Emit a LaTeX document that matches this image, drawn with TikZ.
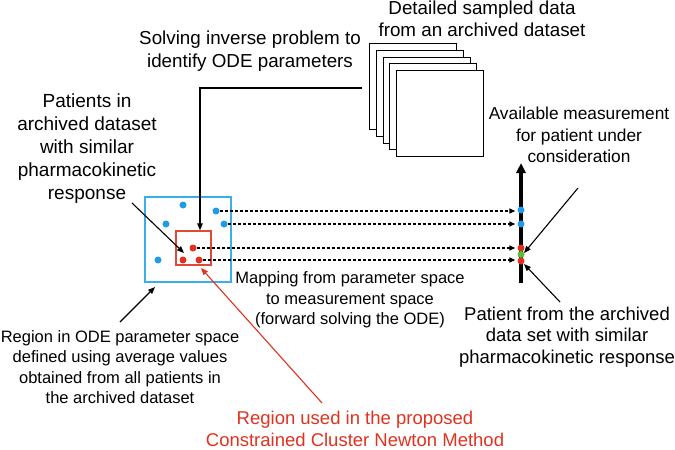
\documentclass[tikz,border=0pt]{standalone}
\usepackage{fontspec}
\setmainfont{Liberation Sans}
\usetikzlibrary{arrows.meta}
\definecolor{dotblue}{HTML}{1E9CE8}
\definecolor{boxblue}{HTML}{3AAEE8}
\definecolor{dotred}{HTML}{E3301E}
\definecolor{boxred}{HTML}{E04A35}
\definecolor{dotgreen}{HTML}{5CBD3C}
\definecolor{redtext}{HTML}{E0321F}
\tikzset{
  lblA/.style={align=center, inner sep=0pt, font=\fontsize{18.8}{22.5}\selectfont},
  lblB/.style={align=center, inner sep=0pt, font=\fontsize{16.5}{20.3}\selectfont},
  lblC/.style={align=center, inner sep=0pt, font=\fontsize{17.3}{21.5}\selectfont},
  arr/.style={-{Triangle[length=7pt,width=5.5pt]}, line width=1.1pt},
  dsh/.style={dash pattern=on 3pt off 2pt, line width=1.4pt, -{Triangle[length=6pt,width=5pt]}},
  pdot/.style={circle, inner sep=0pt, minimum size=7pt},
  sheet/.style={draw=black, fill=white, line width=1.1pt, minimum width=87pt, minimum height=86pt, inner sep=0pt}
}
\begin{document}
\begin{tikzpicture}[x=1pt,y=-1pt]
\useasboundingbox (0,0) rectangle (675,450);
% parameter space squares
\node[draw=boxblue, line width=1.6pt, minimum width=86pt, minimum height=85pt, inner sep=0pt] (bbox) at (188,239.5) {};
\node[draw=boxred, line width=1.4pt, minimum width=35pt, minimum height=34pt, inner sep=0pt] (rbox) at (193.5,248) {};
% dots in parameter space
\node[pdot, fill=dotblue] (b1) at (183,205) {};
\node[pdot, fill=dotblue] (b2) at (216,211) {};
\node[pdot, fill=dotblue] (b3) at (166,224) {};
\node[pdot, fill=dotblue] (b4) at (224,224) {};
\node[pdot, fill=dotblue] (b5) at (158,260) {};
\node[pdot, fill=dotred] (r1) at (193,248) {};
\node[pdot, fill=dotred] (r2) at (183,260) {};
\node[pdot, fill=dotred] (r3) at (199,260) {};
% measurement axis
\coordinate (axb) at (521,283);
\coordinate (axt) at (521,163);
\draw[line width=3.2pt, -{Triangle[length=10pt,width=9pt]}] (axb) -- (axt);
\node[pdot, fill=dotblue] (m1) at (521,210) {};
\node[pdot, fill=dotblue] (m2) at (521,224) {};
\node[pdot, fill=dotred] (m3) at (521,248) {};
\node[pdot, fill=dotgreen] (m4) at (521,254.5) {};
\node[pdot, fill=dotred] (m5) at (521,261) {};
% dashed mapping arrows
\draw[dsh, shorten >=2pt] (b2.east) -- (b2.east -| m1.west);
\draw[dsh, shorten >=2pt] (b4.east) -- (b4.east -| m2.west);
\draw[dsh, shorten >=2pt] (r1.east) -- (r1.east -| m3.west);
\draw[dsh, shorten >=2pt] (r3.east) -- (r3.east -| m5.west);
% stack of sheets
\node[sheet, anchor=north west] (s1) at (369,43) {};
\node[sheet, anchor=north west] (s2) at (375.75,49.75) {};
\node[sheet, anchor=north west] (s3) at (382.5,56.5) {};
\node[sheet, anchor=north west] (s4) at (389.25,63.25) {};
\node[sheet, anchor=north west] (s5) at (396,70) {};
% labels
\node[lblA] (tsolve) at (250,51) {Solving inverse problem to\\identify ODE parameters};
\node[lblA] (tdetail) at (482,19) {Detailed sampled data\\from an archived dataset};
\node[lblA, font=\fontsize{19}{23}\selectfont] (tpat) at (87,149) {Patients in\\archived dataset\\with similar\\pharmacokinetic\\response};
\node[lblC] (tavail) at (579,135) {Available measurement\\for patient under\\consideration};
\node[lblB] (tmap) at (350,300) {Mapping from parameter space\\to measurement space\\(forward solving the ODE)};
\node[lblB] (tregion) at (120,367) {Region in ODE parameter space\\defined using average values\\obtained from all patients in\\the archived dataset};
\node[lblA, text=redtext, font=\fontsize{18.5}{22}\selectfont] (tred) at (355,429) {Region used in the proposed\\Constrained Cluster Newton Method};
\node[lblA, font=\fontsize{18.5}{21.5}\selectfont] (tpfrom) at (567,337) {Patient from the archived\\data set with similar\\pharmacokinetic response};
% connectors
\coordinate (solvestart) at (362,88);
\draw[arr] (solvestart) -- (200,88) -- (200,88 |- rbox.north);
\coordinate (patstart) at (132,203);
\draw[arr] (patstart) -- (184,253);
\coordinate (regstart) at (120,322);
\draw[arr] (regstart) -- (155,287);
\coordinate (redstart) at (322,403);
\draw[arr, draw=dotred] (redstart) -- (201,268);
\coordinate (availstart) at (578,188);
\draw[arr] (availstart) -- (524,253);
\coordinate (pfromstart) at (560,302);
\draw[arr] (pfromstart) -- (524,264);
\end{tikzpicture}
\end{document}
